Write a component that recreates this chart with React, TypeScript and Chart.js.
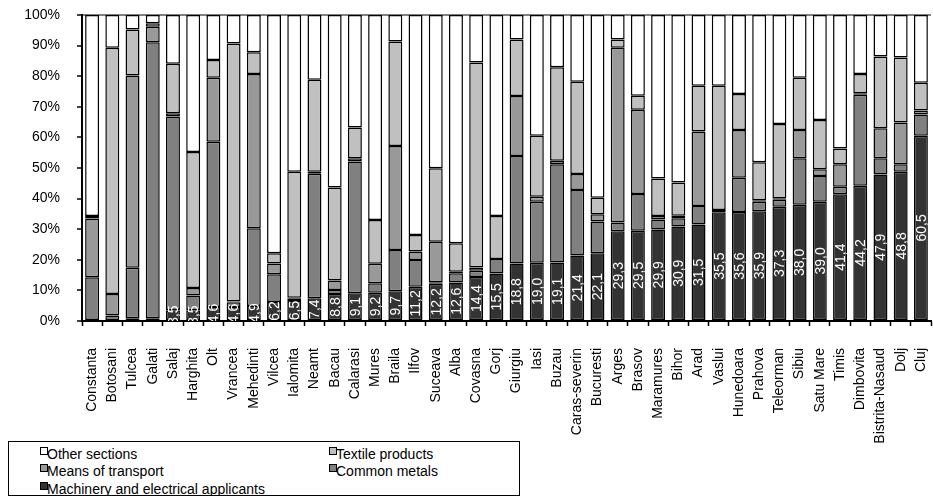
import React, { useEffect, useRef } from 'react';
import { Chart, registerables } from 'chart.js';

Chart.register(...registerables);

const counties = [
  'Constanta', 'Botosani', 'Tulcea', 'Galati', 'Salaj', 'Harghita', 'Olt', 'Vrancea', 'Mehedinti', 'Vilcea',
  'Ialomita', 'Neamt', 'Bacau', 'Calarasi', 'Mures', 'Braila', 'Ilfov', 'Suceava', 'Alba', 'Covasna',
  'Gorj', 'Giurgiu', 'Iasi', 'Buzau', 'Caras-severin', 'Bucuresti', 'Arges', 'Brasov', 'Maramures', 'Bihor',
  'Arad', 'Vaslui', 'Hunedoara', 'Prahova', 'Teleorman', 'Sibiu', 'Satu Mare', 'Timis', 'Dimbovita',
  'Bistrita-Nasaud', 'Dolj', 'Cluj',
];

const machinery = [
  0.3, 0.3, 0.9, 0.9, 3.5, 3.5, 4.6, 4.6, 4.9, 6.2,
  6.5, 7.4, 8.8, 9.1, 9.2, 9.7, 11.2, 12.2, 12.6, 14.4,
  15.5, 18.8, 19.0, 19.1, 21.4, 22.1, 29.3, 29.5, 29.9, 30.9,
  31.5, 35.5, 35.6, 35.9, 37.3, 38.0, 39.0, 41.4, 44.2,
  47.9, 48.8, 60.5,
];
const commonMetals = [
  14.0, 1.5, 16.5, 90.2, 63.3, 4.8, 54.0, 1.5, 25.4, 9.1,
  0.8, 40.7, 1.3, 43.0, 3.1, 13.5, 8.7, 0.5, 3.0, 2.0,
  4.8, 35.1, 20.0, 32.1, 21.4, 10.4, 2.9, 12.0, 3.3, 2.7,
  6.1, 0.8, 11.2, 3.1, 2.3, 15.2, 8.4, 2.5, 29.7,
  5.3, 2.4, 7.0,
];
const transport = [
  19.2, 7.0, 62.8, 5.1, 1.1, 2.5, 20.9, 0.3, 50.4, 3.5,
  0.3, 0.7, 3.1, 1.1, 6.4, 34.0, 2.8, 13.2, 0.5, 1.1,
  0.0, 19.6, 1.6, 1.2, 5.2, 2.4, 57.1, 27.5, 1.1, 0.8,
  24.3, 0.0, 15.6, 0.5, 0.5, 9.2, 2.2, 7.3, 0.5,
  9.8, 13.7, 1.3,
];
const textile = [
  0.8, 80.5, 15.1, 1.1, 16.2, 44.4, 5.8, 84.3, 7.1, 3.3,
  41.2, 30.0, 30.4, 10.0, 14.3, 34.1, 5.4, 24.0, 9.3, 67.0,
  14.0, 18.5, 19.9, 30.5, 30.2, 5.4, 2.7, 4.6, 12.3, 10.9,
  15.0, 40.6, 11.8, 12.4, 24.3, 17.1, 16.1, 5.2, 6.3,
  23.4, 21.2, 9.1,
];
const otherSections = [
  65.7, 10.7, 4.7, 2.7, 15.9, 44.8, 14.7, 9.3, 12.2, 77.9,
  51.2, 21.2, 56.4, 36.8, 67.0, 8.7, 71.9, 50.1, 74.6, 15.5,
  65.7, 8.0, 39.5, 17.1, 21.8, 59.7, 8.0, 26.4, 53.4, 54.7,
  23.1, 23.1, 25.8, 48.1, 35.6, 20.5, 34.3, 43.6, 19.3,
  13.6, 13.9, 22.1,
];

const yTickValues = [0, 10, 20, 30, 40, 50, 60, 70, 80, 90, 100];

const seriesNames = [
  'Machinery and electrical applicants',
  'Common metals',
  'Means of transport',
  'Textile products',
  'Other sections',
];
const seriesColors = ['#333333', '#808080', '#999999', '#c0c0c0', '#ffffff'];

const FONT = '"Liberation Sans", Arial, sans-serif';

const labelPlugin = {
  id: 'machineryLabels',
  afterDatasetsDraw(chart: any) {
    const meta = chart.getDatasetMeta(0);
    const ctx = chart.ctx;
    const area = chart.chartArea;
    ctx.save();
    ctx.beginPath();
    ctx.rect(area.left, area.top, area.right - area.left, area.bottom - area.top);
    ctx.clip();
    ctx.fillStyle = '#ffffff';
    ctx.font = `14px ${FONT}`;
    ctx.textAlign = 'center';
    ctx.textBaseline = 'middle';
    meta.data.forEach((bar: any, i: number) => {
      const v = machinery[i];
      if (v < 1) return;
      const cy = (bar.y + bar.base) / 2;
      ctx.save();
      ctx.translate(bar.x, cy);
      ctx.rotate(-Math.PI / 2);
      ctx.fillText(v.toFixed(1).replace('.', ','), 0, 1);
      ctx.restore();
    });
    ctx.restore();
  },
};

export default function App() {
  const canvasRef = useRef<HTMLCanvasElement | null>(null);

  useEffect(() => {
    document.body.style.margin = '0';
    const canvas = canvasRef.current;
    if (!canvas) return;
    const values = [machinery, commonMetals, transport, textile, otherSections];
    const chart = new Chart(canvas, {
      type: 'bar',
      data: {
        labels: counties,
        datasets: values.map((d, i) => ({
          label: seriesNames[i],
          data: d,
          backgroundColor: seriesColors[i],
          borderColor: '#000000',
          borderWidth: 1.5,
          borderSkipped: false,
          barPercentage: 0.69,
          categoryPercentage: 1,
        })),
      },
      options: {
        animation: false,
        responsive: false,
        devicePixelRatio: 1,
        layout: { padding: { top: 15, right: 2, left: 0, bottom: 0 } },
        plugins: {
          legend: { display: false },
          tooltip: { enabled: false },
        },
        scales: {
          x: {
            stacked: true,
            afterFit: (scale: any) => {
              scale.height = 175;
              scale.paddingLeft = 0;
              scale.paddingRight = 0;
            },
            grid: {
              offset: true,
              drawOnChartArea: false,
              drawTicks: true,
              tickLength: 5,
              tickColor: '#000000',
              tickWidth: 1.5,
            },
            border: { color: '#000000', width: 2 },
            ticks: {
              autoSkip: false,
              maxRotation: 90,
              minRotation: 90,
              padding: 22,
              color: '#000000',
              font: { family: FONT, size: 14 },
            },
          },
          y: {
            stacked: true,
            min: 0,
            max: 100,
            afterFit: (scale: any) => {
              scale.width = 82;
              scale.paddingTop = 0;
              scale.paddingBottom = 0;
            },
            afterBuildTicks: (scale: any) => {
              scale.ticks = yTickValues.map((v) => ({ value: v }));
            },
            grid: {
              drawTicks: true,
              tickLength: 5,
              tickColor: '#000000',
              tickWidth: 1.5,
              color: (c: any) => (c.tick && c.tick.value === 100 ? '#808080' : 'rgba(0,0,0,0)'),
              lineWidth: 2,
            },
            border: { color: '#000000', width: 2 },
            ticks: {
              padding: 17,
              color: '#000000',
              font: { family: FONT, size: 14 },
              callback: (v: any) => `${v}%`,
            },
          },
        },
      },
      plugins: [labelPlugin],
    });
    return () => chart.destroy();
  }, []);

  const legendItems = [
    { name: 'Other sections', color: seriesColors[4], left: 40, top: 447 },
    { name: 'Textile products', color: seriesColors[3], left: 329, top: 447 },
    { name: 'Means of transport', color: seriesColors[2], left: 40, top: 464 },
    { name: 'Common metals', color: seriesColors[1], left: 329, top: 464 },
    { name: 'Machinery and electrical applicants', color: seriesColors[0], left: 40, top: 482 },
  ];

  return (
    <div style={{ position: 'relative', width: 933, height: 496, overflow: 'hidden', background: '#fff' }}>
      <canvas ref={canvasRef} width={933} height={496} style={{ position: 'absolute', left: 0, top: 0 }} />
      <div
        style={{
          position: 'absolute',
          left: 8,
          top: 441,
          width: 512,
          height: 55,
          boxSizing: 'border-box',
          border: '1.5px solid #000',
          background: '#fff',
          overflow: 'hidden',
        }}
      />
      {legendItems.map((it) => (
        <React.Fragment key={it.name}>
          <div
            style={{
              position: 'absolute',
              left: it.left,
              top: it.top,
              width: 8,
              height: 8,
              boxSizing: 'border-box',
              border: '1.5px solid #000',
              background: it.color,
            }}
          />
          <div
            style={{
              position: 'absolute',
              left: it.left + 7,
              top: it.top - 1,
              font: `14px ${FONT}`,
              lineHeight: '16px',
              color: '#000',
              whiteSpace: 'nowrap',
            }}
          >
            {it.name}
          </div>
        </React.Fragment>
      ))}
      <div
        style={{
          position: 'absolute',
          left: 8,
          top: 494.5,
          width: 512,
          height: 1.5,
          background: '#000',
        }}
      />
    </div>
  );
}
